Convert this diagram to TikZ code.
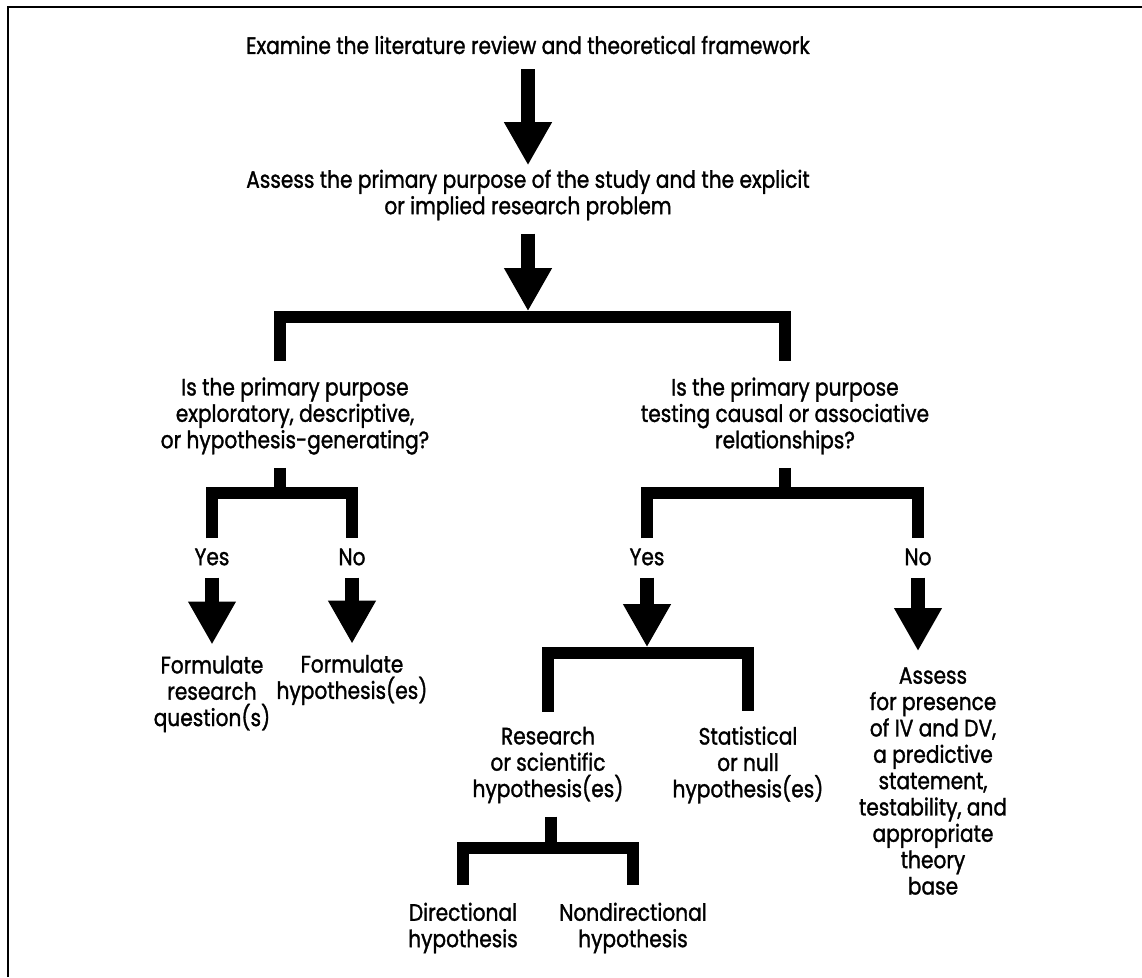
\documentclass[tikz,border=0pt]{standalone}
\usepackage{fontspec}
\setmainfont{Poppins}[FakeStretch=0.85, FakeBold=1.3]
\usetikzlibrary{arrows.meta}

\begin{document}
\begin{tikzpicture}[x=0.02cm, y=-0.02cm,
    lbl/.style={align=center, inner sep=0pt, font=\fontsize{13.5}{15}\selectfont},
    bar/.style={line width=6.6pt},
    bigarrow/.style={line width=8.2pt, -{Triangle[width=25.5pt, length=24.5pt]}}]
  \useasboundingbox (0,0) rectangle (1142,977);
  \draw[line width=1.2pt] (8,977) -- (8,7) -- (1142,7);
  \node[lbl] (examine) at (528,45) {Examine the literature review and theoretical framework};
  \node[lbl] (assess) at (528,195) {Assess the primary purpose of the study and the explicit\\or implied research problem};
  \node[lbl] (qexpl) at (295,416) {Is the primary purpose\\exploratory, descriptive,\\or hypothesis-generating?};
  \node[lbl] (qtest) at (785,416) {Is the primary purpose\\testing causal or associative\\relationships?};
  \node[lbl] (yesL) at (212,557) {Yes};
  \node[lbl] (noL) at (352,557) {No};
  \node[lbl] (yesR) at (647,557) {Yes};
  \node[lbl] (noR) at (918,557) {No};
  \node[lbl] (formq) at (212,694) {Formulate\\research\\question(s)};
  \node[lbl] (formh) at (352,680) {Formulate\\hypothesis(es)};
  \node[lbl] (research) at (548,765) {Research\\or scientific\\hypothesis(es)};
  \node[lbl] (statistical) at (748,765) {Statistical\\or null\\hypothesis(es)};
  \node[lbl] (assessiv) at (933,781) {Assess\\for presence\\of IV and DV,\\a predictive\\statement,\\testability, and\\appropriate\\theory\\base};
  \node[lbl] (direct) at (463,928) {Directional\\hypothesis};
  \node[lbl] (nondirect) at (633,928) {Nondirectional\\hypothesis};
  \coordinate (topbar) at (528,317);
  \coordinate (lbar) at (280,493);
  \coordinate (rbar) at (785,493);
  \coordinate (ybar) at (648,653);
  \coordinate (hbar) at (551,848);
  \draw[bigarrow, shorten <=8.5pt, shorten >=2.3pt] (examine) -- (assess);
  \draw[bigarrow, shorten <=7.4pt, shorten >=3.3pt] (assess) -- (topbar);
  \draw[bar, shorten <=9pt, shorten >=9pt] (qexpl.north -| lbar) |- (topbar) -| (qtest.north);
  \draw[bar, shorten <=7.4pt] (qexpl.south -| lbar) -- (lbar);
  \draw[bar, shorten <=5.7pt, shorten >=5.7pt] (yesL) |- (lbar) -| (noL);
  \draw[bigarrow, shorten <=6.8pt, shorten >=6.2pt] (yesL) -- (formq);
  \draw[bigarrow, shorten <=6.8pt, shorten >=6.2pt] (noL) -- (formh);
  \draw[bar, shorten <=7.4pt] (qtest) -- (rbar);
  \draw[bar, shorten <=5.7pt, shorten >=5.7pt] (yesR) |- (rbar) -| (noR);
  \draw[bigarrow, shorten <=6.8pt, shorten >=3.3pt] (yesR) -- (yesR |- ybar);
  \draw[bigarrow, shorten <=6.8pt, shorten >=9pt] (noR) -- (noR |- assessiv.north);
  \draw[bar, shorten <=8.5pt, shorten >=8.5pt] (research) |- (ybar) -| (statistical);
  \draw[bar, shorten <=7.4pt] (research.south -| hbar) -- (hbar);
  \draw[bar, shorten <=10pt, shorten >=10pt] (direct) |- (hbar) -| (nondirect);
\end{tikzpicture}
\end{document}
